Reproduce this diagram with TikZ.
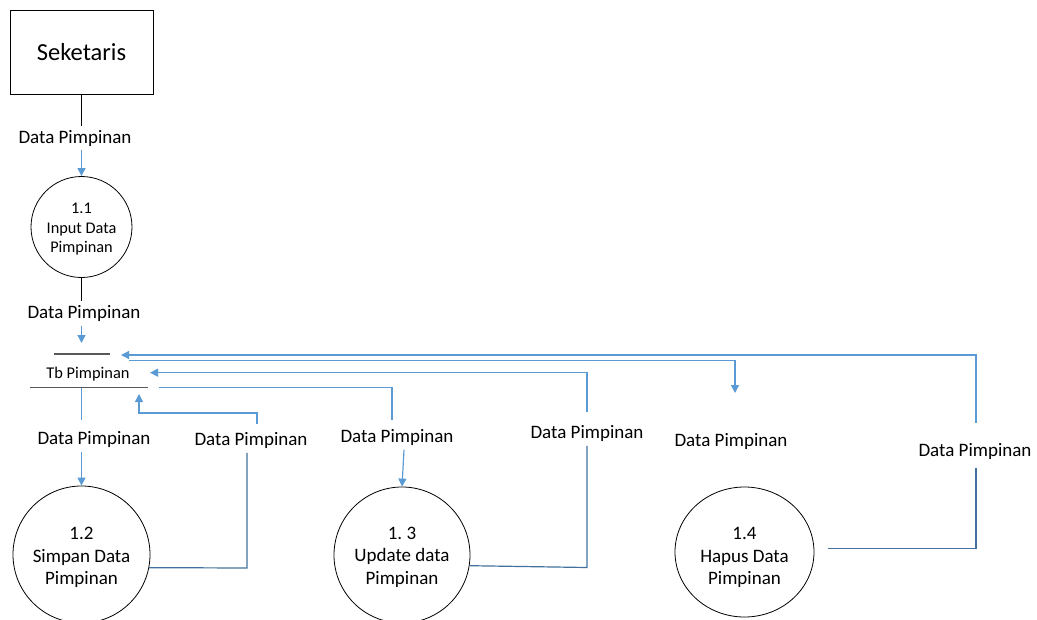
\documentclass[tikz,border=0pt]{standalone}
\usepackage{fontspec}
\setmainfont{Carlito}
\usetikzlibrary{arrows.meta,shapes.geometric}
\definecolor{flowblue}{RGB}{91,155,213}
\definecolor{flowdark}{RGB}{65,113,156}
\definecolor{storegray}{RGB}{89,89,89}

\begin{document}
\frenchspacing
\begin{tikzpicture}[x=1pt,y=-1pt,
  entity/.style={draw=black, line width=0.8pt, minimum width=143pt, minimum height=84pt,
    inner sep=0pt, font=\fontsize{24.5}{29}\selectfont},
  proc/.style={draw=black, line width=0.8pt, circle, inner sep=0pt},
  proctext/.style={inner sep=0pt, align=center, font=\fontsize{19}{22.5}\selectfont},
  smalltext/.style={proctext, font=\fontsize{16.3}{19.5}\selectfont},
  lbl/.style={inner xsep=2pt, inner ysep=4pt, font=\fontsize{19}{22}\selectfont},
  storetext/.style={inner sep=0pt, font=\fontsize{16.4}{19}\selectfont},
  storeline/.style={draw=storegray, line width=1.3pt},
  plain/.style={draw=black, line width=0.8pt},
  flow/.style={draw=flowblue, line width=1.2pt, -{Triangle[length=8pt,width=8pt]}},
  link/.style={draw=flowblue, line width=1.2pt},
  back/.style={draw=flowdark, line width=1.2pt},
]
\useasboundingbox (0,0) rectangle (1037,619);

% external entity and first process
\node[entity] (sek) at (81.5,52) {Seketaris};
\node[lbl] (l1) at (75,138) {Data Pimpinan};
\node[proc, minimum size=101pt] (p11) at (81.5,227) {};
\node[smalltext] (p11t) at (81.5,229.5) {1.1\\Input Data\\Pimpinan};
\node[lbl] (l2) at (84,313.5) {Data Pimpinan};

% data store Tb Pimpinan
\coordinate (stTL) at (54,354);
\coordinate (stTR) at (110,354);
\coordinate (stBL) at (30,387.5);
\coordinate (stBR) at (148,387.5);
\node[storetext] (store) at (88,374.5) {Tb Pimpinan};
\draw[storeline] (stTL) -- (stTR);
\draw[storeline] (stBL) -- (stBR);

% attachment points on the store
\coordinate (in1) at (81.5,343);
\coordinate (out12) at (81.5,387.5);
\coordinate (in12) at (139,394);
\coordinate (out13) at (159,387.5);
\coordinate (in13) at (150,372.7);
\coordinate (out14) at (129,360.7);
\coordinate (in14) at (121,355);

% lower processes
\node[proc, minimum size=137pt] (p12) at (81.5,554.5) {};
\node[proctext] (p12t) at (81.5,557.5) {1.2\\Simpan Data\\Pimpinan};
\node[proc, minimum size=136pt] (p13) at (402,555) {};
\node[proctext] (p13t) at (402,557) {1. 3\\Update data\\Pimpinan};
\node[proc, ellipse, minimum width=139pt, minimum height=130pt] (p14) at (744.5,552) {};
\node[proctext] (p14t) at (744.5,557.5) {1.4\\Hapus Data\\Pimpinan};

% flow labels
\node[lbl] (l3) at (94,439.5) {Data Pimpinan};
\node[lbl] (l4) at (251,440.5) {Data Pimpinan};
\node[lbl] (l5) at (397,437.5) {Data Pimpinan};
\node[lbl] (l6) at (587,433.5) {Data Pimpinan};
\node[lbl] (l7) at (731,441.5) {Data Pimpinan};
\node[lbl] (l8) at (975,451) {Data Pimpinan};

% Seketaris -> 1.1 -> store
\draw[plain] (sek.south) -- (sek.south |- l1.north);
\draw[flow] (l1.south -| p11.north) -- (p11.north);
\draw[plain] (p11.south) -- (p11.south |- l2.north);
\draw[flow] (l2.south -| in1) -- (in1);

% store -> 1.2
\draw[link, shorten >=7pt] (out12) -- (out12 |- l3.north);
\draw[flow] (l3.south -| p12.north) -- (p12.north);

% 1.2 -> store
\coordinate (b12) at (247,568);
\draw[back] (p12.-11) -- (b12) -- (b12 |- l4.south);
\coordinate (c12) at (257,413);
\draw[flow, shorten <=4pt] (c12 |- l4.north) -- (c12) -- (c12 -| in12) -- (in12);

% store -> 1.3
\coordinate (c13) at (392,387.5);
\draw[link, shorten >=5pt] (out13) -- (c13) -- (c13 |- l5.north);
\draw[flow] ([xshift=7pt]l5.south) -- (p13.north);

% 1.3 -> store
\coordinate (d13) at (587,567.5);
\draw[back] (p13.-9) -- (d13) -- (d13 |- l6.south);
\coordinate (c13b) at (587,372.7);
\draw[flow, shorten <=9pt] (c13b |- l6.north) -- (c13b) -- (in13);

% store -> 1.4
\coordinate (c14) at (735,360.7);
\coordinate (e14) at (735,393);
\draw[flow] (out14) -- (c14) -- (e14);

% 1.4 -> store
\coordinate (f14) at (828,548.5);
\coordinate (d14) at (976,548.5);
\draw[back, shorten >=5pt] (f14) -- (d14) -- (d14 |- l8.south);
\coordinate (c14b) at (976,355);
\draw[flow, shorten <=16pt] (c14b |- l8.north) -- (c14b) -- (in14);
\end{tikzpicture}
\end{document}
